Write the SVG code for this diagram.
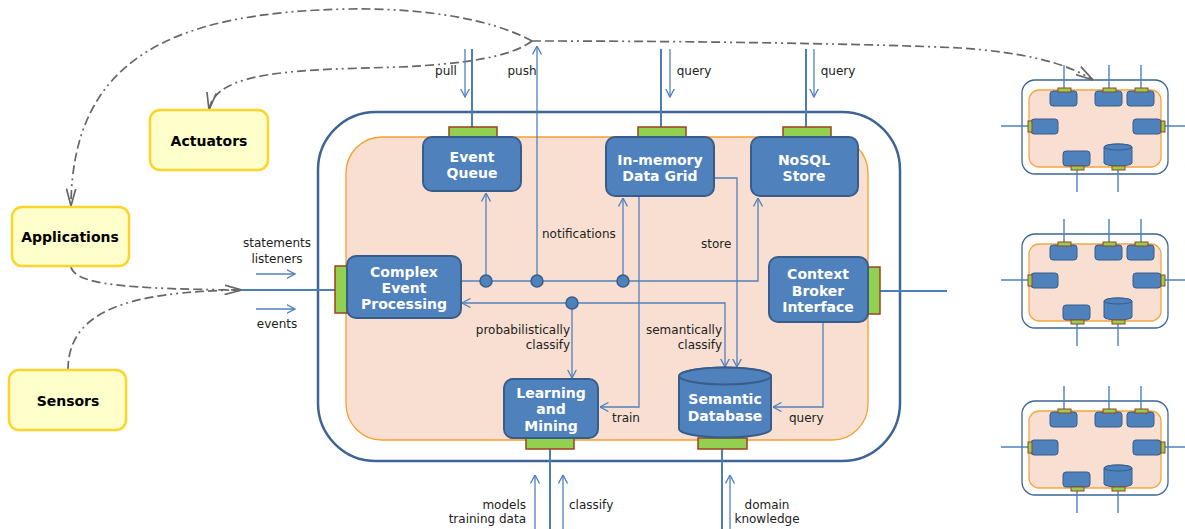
<svg xmlns="http://www.w3.org/2000/svg" xmlns:xlink="http://www.w3.org/1999/xlink" width="1185" height="529" viewBox="0 0 1185 529">
<style>
.blk{fill:#4f81bd;stroke:#385d8a;stroke-width:2}
.tab{fill:#92d050;stroke:#a0401f;stroke-width:1.5}
.yel{fill:#ffffcc;stroke:#ffd42a;stroke-width:2.5}
.bt{font-family:"DejaVu Sans",Verdana,sans-serif;font-weight:bold;font-size:14px;fill:#ffffff;text-anchor:middle}
.yt{font-family:"DejaVu Sans",Verdana,sans-serif;font-weight:bold;font-size:14px;fill:#000;text-anchor:middle}
.lb{font-family:"DejaVu Sans",Verdana,sans-serif;font-size:12px;fill:#222}
.ln{fill:none;stroke:#4f81bd;stroke-width:1.3}
.thk{fill:none;stroke:#4a7ebb;stroke-width:2}
.dd{fill:none;stroke:#666;stroke-width:1.7;stroke-dasharray:9 4 9 4 9 4 2 4 2 4}
.mb{fill:#4f81bd;stroke:#385d8a;stroke-width:1}
.mt{fill:#92d050;stroke:#a0401f;stroke-width:1}
.ml{fill:none;stroke:#4f81bd;stroke-width:1.4}
.dot{fill:#4f81bd;stroke:#385d8a;stroke-width:1.5}
</style>
<defs>
<marker id="ab" viewBox="0 0 9 10" refX="8.5" refY="5" markerWidth="9" markerHeight="10" markerUnits="userSpaceOnUse" orient="auto"><path d="M0,0.5 L8.5,5 L0,9.5" fill="none" stroke="#4f81bd" stroke-width="1.3"/></marker>
<marker id="ag" viewBox="0 0 18 11" refX="17.5" refY="5.5" markerWidth="18" markerHeight="11" markerUnits="userSpaceOnUse" orient="auto"><path d="M0,0.8 L17.5,5.5 L0,10.2" fill="none" stroke="#666" stroke-width="1.7"/></marker>
<g id="mini">
<rect x="1022" y="80" width="146" height="94" rx="13" fill="#fff" stroke="#3c6494" stroke-width="1.3"/>
<rect x="1029" y="90" width="132" height="77" rx="10" fill="#f8dfd1" stroke="#f4a640" stroke-width="1.3"/>
<path class="ml" d="M1064,65 V89 M1109,65 V89 M1141,65 V89 M1001,126 H1029 M1164,126 H1185 M1077,169 V192 M1118,169 V192"/>
<rect class="mb" x="1050" y="91" width="27" height="15" rx="3"/>
<rect class="mb" x="1095" y="91" width="27" height="15" rx="3"/>
<rect class="mb" x="1127" y="91" width="27" height="15" rx="3"/>
<rect class="mb" x="1031" y="119" width="27" height="15" rx="3"/>
<rect class="mb" x="1133" y="119" width="28" height="15" rx="3"/>
<rect class="mb" x="1063" y="151" width="27" height="15" rx="3"/>
<path class="mb" d="M1104,147 A14,3 0 0 1 1132,147 V163 A14,3 0 0 1 1104,163 Z"/>
<ellipse class="mb" cx="1118" cy="147" rx="14" ry="3"/>
<rect class="mt" x="1058" y="88" width="13" height="4"/>
<rect class="mt" x="1103" y="88" width="13" height="4"/>
<rect class="mt" x="1135" y="88" width="13" height="4"/>
<rect class="mt" x="1028" y="121" width="4" height="11"/>
<rect class="mt" x="1161" y="121" width="4" height="11"/>
<rect class="mt" x="1071" y="166" width="13" height="4"/>
<rect class="mt" x="1112" y="166" width="13" height="4"/>
</g>
</defs>

<g id="container">
<rect x="318" y="112" width="582" height="349" rx="58" fill="#fff" stroke="#3c6494" stroke-width="2.5"/>
<rect x="346" y="137" width="522" height="303" rx="36" fill="#f8dfd1" stroke="#f4a030" stroke-width="1.3"/>
</g>

<g id="remote-systems">
<use xlink:href="#mini"/>
<use xlink:href="#mini" transform="translate(0,154)"/>
<use xlink:href="#mini" transform="translate(0,321)"/>
</g>

<g id="connectors">
<!-- gray dash-dot flows -->
<path class="dd" d="M532,41 C490,18 420,8 350,9 C170,12 72,60 71,206" marker-end="url(#ag)"/>
<path class="dd" d="M532,41 C510,58 460,64 400,67 C300,70 215,70 209,110" marker-end="url(#ag)"/>
<path class="dd" d="M532,41 C700,41 880,44 960,48 C1020,52 1065,62 1093,80" marker-end="url(#ag)"/>
<path class="dd" d="M71,267 C75,285 130,289 242,290" marker-end="url(#ag)"/>
<path class="dd" d="M68,370 C68,310 130,292 238,290"/>
<!-- external thick lines -->
<path class="thk" d="M242,290 H335 M880,291 H947 M472,49 V127 M661,49 V127 M806,49 V127 M550,449 V529 M722,449 V529"/>
<!-- thin external arrows -->
<path class="ln" d="M256,274 H295" marker-end="url(#ab)"/>
<path class="ln" d="M256,309 H295" marker-end="url(#ab)"/>
<path class="ln" d="M465,49 V97" marker-end="url(#ab)"/>
<path class="ln" d="M670,49 V97" marker-end="url(#ab)"/>
<path class="ln" d="M814,49 V97" marker-end="url(#ab)"/>
<path class="ln" d="M535,529 V475" marker-end="url(#ab)"/>
<path class="ln" d="M563,529 V475" marker-end="url(#ab)"/>
<path class="ln" d="M730,529 V475" marker-end="url(#ab)"/>
<!-- internal -->
<path class="ln" d="M461,281 H758 V198" marker-end="url(#ab)"/>
<path class="ln" d="M486,281 V193" marker-end="url(#ab)"/>
<path class="ln" d="M623,281 V198" marker-end="url(#ab)"/>
<path class="ln" d="M537,281 V46" marker-end="url(#ab)"/>
<path class="ln" d="M572,303 H462" marker-end="url(#ab)"/>
<path class="ln" d="M572,303 H725 V367" marker-end="url(#ab)"/>
<path class="ln" d="M572,303 V378" marker-end="url(#ab)"/>
<path class="ln" d="M714,178 H737 V367" marker-end="url(#ab)"/>
<path class="ln" d="M639,196 V407 H600" marker-end="url(#ab)"/>
<path class="ln" d="M823,322 V407 H773" marker-end="url(#ab)"/>
<circle class="dot" cx="486" cy="281" r="6"/>
<circle class="dot" cx="537" cy="281" r="6"/>
<circle class="dot" cx="623" cy="281" r="6"/>
<circle class="dot" cx="572" cy="303" r="6"/>
</g>

<g id="labels">
<text class="lb" x="446" y="75" text-anchor="middle">pull</text>
<text class="lb" x="522" y="75" text-anchor="middle">push</text>
<text class="lb" x="694" y="75" text-anchor="middle">query</text>
<text class="lb" x="838" y="75" text-anchor="middle">query</text>
<text class="lb" x="277" y="247" text-anchor="middle">statements</text>
<text class="lb" x="277" y="263" text-anchor="middle">listeners</text>
<text class="lb" x="277" y="328" text-anchor="middle">events</text>
<text class="lb" x="542" y="238">notifications</text>
<text class="lb" x="701" y="248">store</text>
<text class="lb" x="570" y="334" text-anchor="end">probabilistically</text>
<text class="lb" x="570" y="349" text-anchor="end">classify</text>
<text class="lb" x="722" y="334" text-anchor="end">semantically</text>
<text class="lb" x="722" y="349" text-anchor="end">classify</text>
<text class="lb" x="612" y="422">train</text>
<text class="lb" x="789" y="422">query</text>
<text class="lb" x="526" y="509" text-anchor="end">models</text>
<text class="lb" x="526" y="523" text-anchor="end">training data</text>
<text class="lb" x="569" y="509">classify</text>
<text class="lb" x="767" y="509" text-anchor="middle">domain</text>
<text class="lb" x="767" y="523" text-anchor="middle">knowledge</text>
</g>

<g id="actuators">
<rect class="yel" x="150" y="110" width="118" height="60" rx="10"/>
<text class="yt" x="209" y="146">Actuators</text>
</g>
<g id="applications">
<rect class="yel" x="12" y="207" width="117" height="59" rx="10"/>
<text class="yt" x="70" y="242">Applications</text>
</g>
<g id="sensors">
<rect class="yel" x="9" y="370" width="117" height="60" rx="10"/>
<text class="yt" x="68" y="406">Sensors</text>
</g>

<g id="event-queue">
<rect class="tab" x="449" y="127" width="48" height="11"/>
<rect class="blk" x="423" y="137" width="98" height="54" rx="9"/>
<text class="bt" x="472" y="162">Event</text>
<text class="bt" x="472" y="178">Queue</text>
</g>
<g id="data-grid">
<rect class="tab" x="638" y="127" width="48" height="11"/>
<rect class="blk" x="606" y="137" width="108" height="59" rx="9"/>
<text class="bt" x="660" y="165">In-memory</text>
<text class="bt" x="660" y="181">Data Grid</text>
</g>
<g id="nosql">
<rect class="tab" x="783" y="127" width="48" height="11"/>
<rect class="blk" x="751" y="137" width="107" height="59" rx="9"/>
<text class="bt" x="804" y="165">NoSQL</text>
<text class="bt" x="804" y="181">Store</text>
</g>
<g id="cep">
<rect class="tab" x="335" y="266" width="12" height="47"/>
<rect class="blk" x="347" y="256" width="114" height="62" rx="9"/>
<text class="bt" x="404" y="277">Complex</text>
<text class="bt" x="404" y="293">Event</text>
<text class="bt" x="404" y="309">Processing</text>
</g>
<g id="context-broker">
<rect class="tab" x="868" y="267" width="12" height="47"/>
<rect class="blk" x="769" y="257" width="99" height="65" rx="9"/>
<text class="bt" x="818" y="279">Context</text>
<text class="bt" x="818" y="296">Broker</text>
<text class="bt" x="818" y="312">Interface</text>
</g>
<g id="learning">
<rect class="tab" x="526" y="438" width="48" height="11"/>
<rect class="blk" x="504" y="379" width="94" height="59" rx="9"/>
<text class="bt" x="551" y="398">Learning</text>
<text class="bt" x="551" y="414">and</text>
<text class="bt" x="551" y="431">Mining</text>
</g>
<g id="semantic-db">
<rect class="tab" x="698" y="438" width="49" height="11"/>
<path class="blk" d="M679,376 A46,8.5 0 0 1 771,376 V429 A46,8.5 0 0 1 679,429 Z"/>
<ellipse class="blk" cx="725" cy="376" rx="46" ry="8.5"/>
<text class="bt" x="725" y="404">Semantic</text>
<text class="bt" x="725" y="421">Database</text>
</g>
</svg>
